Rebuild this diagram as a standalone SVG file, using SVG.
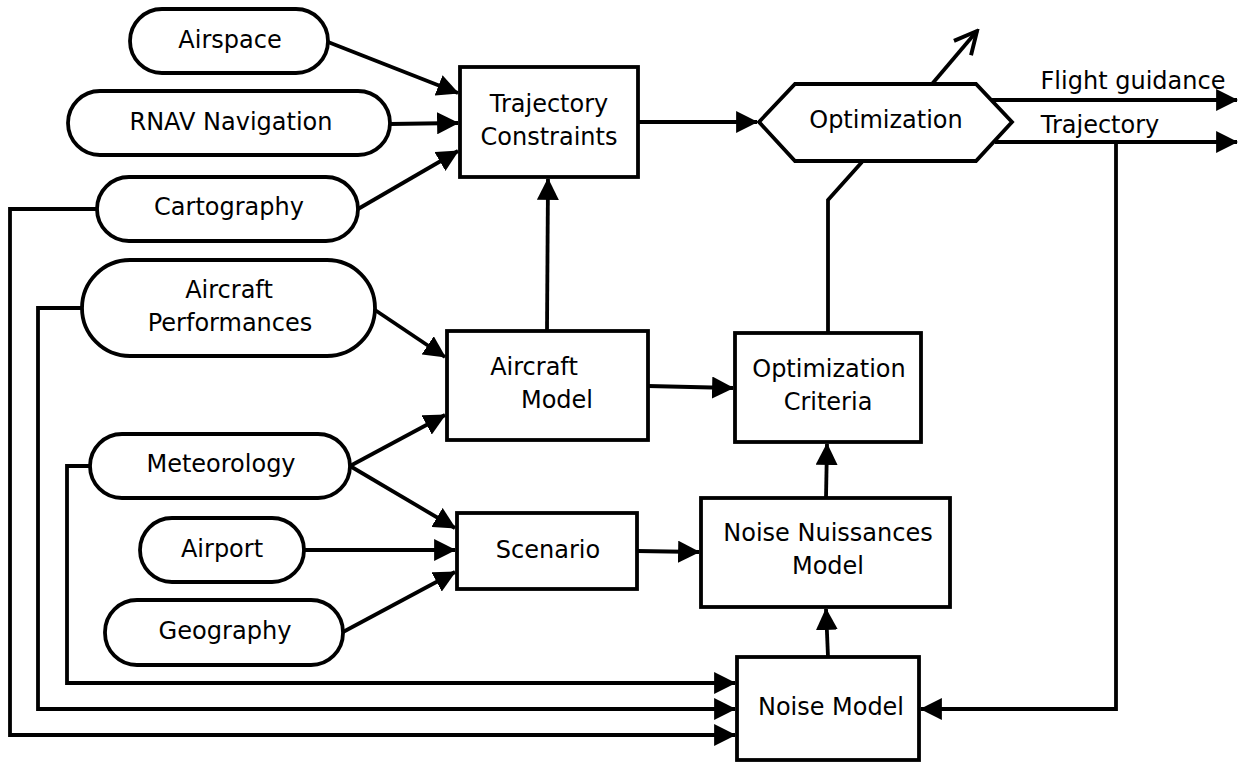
<svg xmlns="http://www.w3.org/2000/svg" width="1242" height="763" viewBox="0 0 1242 763">
<defs>
<style>
.n{fill:#fff;stroke:#000;stroke-width:3.8}
.t{font-family:"DejaVu Sans","Liberation Sans",sans-serif;font-size:24px;fill:#000;text-anchor:middle}
.c{fill:none;stroke:#000;stroke-width:3.8}
.a{marker-end:url(#ah)}
</style>
<marker id="ah" markerUnits="userSpaceOnUse" markerWidth="22" markerHeight="22" viewBox="0 0 20 20" refX="19" refY="10" orient="auto">
<path d="M0,0 L20,10 L0,20 Z" fill="#000"/>
</marker>
<marker id="oh" markerUnits="userSpaceOnUse" markerWidth="28" markerHeight="28" viewBox="0 0 20 20" refX="18" refY="10" orient="auto">
<path d="M2,2 L18,10 L2,18" fill="none" stroke="#000" stroke-width="2.8"/>
</marker>
</defs>
<rect width="1242" height="763" fill="#fff"/>
<g id="connectors">
<line class="c a" x1="328" y1="42" x2="458" y2="93"/>
<line class="c a" x1="390" y1="124" x2="458" y2="123"/>
<line class="c a" x1="358" y1="209" x2="458" y2="151"/>
<line class="c a" x1="638" y1="122" x2="757" y2="122"/>
<line class="c a" x1="547" y1="331" x2="548" y2="179"/>
<line class="c a" x1="375" y1="310" x2="445" y2="357"/>
<line class="c a" x1="350" y1="466" x2="445" y2="415"/>
<line class="c a" x1="350" y1="466" x2="455" y2="528"/>
<line class="c a" x1="304" y1="550" x2="455" y2="550"/>
<line class="c a" x1="343" y1="632" x2="455" y2="572"/>
<line class="c a" x1="648" y1="386" x2="733" y2="388"/>
<line class="c a" x1="637" y1="551" x2="699" y2="552"/>
<line class="c a" x1="826" y1="498" x2="827" y2="444"/>
<line class="c a" x1="828" y1="657" x2="826" y2="609"/>
<polyline class="c" points="828,333 828,200 862,162"/>
<line class="c" x1="932" y1="84" x2="977" y2="31" marker-end="url(#oh)"/>
<line class="c a" x1="990" y1="100" x2="1237" y2="100"/>
<line class="c a" x1="995" y1="142" x2="1237" y2="142"/>
<polyline class="c a" points="1116,142 1116,709 921,709"/>
<polyline class="c a" points="97,209 10,209 10,735 735,735"/>
<polyline class="c a" points="82,308 38,308 38,709 735,709"/>
<polyline class="c a" points="90,466 67,466 67,683 735,683"/>
</g>
<g id="airspace"><rect class="n" x="130" y="9" width="198" height="64" rx="32"/><text class="t" x="230" y="48">Airspace</text></g>
<g id="rnav"><rect class="n" x="68" y="91" width="322" height="64" rx="32"/><text class="t" x="231" y="130">RNAV Navigation</text></g>
<g id="cartography"><rect class="n" x="97" y="177" width="261" height="64" rx="32"/><text class="t" x="229" y="215">Cartography</text></g>
<g id="aircraft-performances"><rect class="n" x="82" y="260" width="293" height="96" rx="48"/><text class="t" x="229" y="298">Aircraft</text><text class="t" x="230" y="331">Performances</text></g>
<g id="meteorology"><rect class="n" x="90" y="434" width="260" height="64" rx="32"/><text class="t" x="221" y="472">Meteorology</text></g>
<g id="airport"><rect class="n" x="140" y="518" width="164" height="64" rx="32"/><text class="t" x="222" y="557">Airport</text></g>
<g id="geography"><rect class="n" x="105" y="600" width="238" height="65" rx="32"/><text class="t" x="225" y="639" textLength="133" lengthAdjust="spacingAndGlyphs">Geography</text></g>
<g id="trajectory-constraints"><rect class="n" x="460" y="67" width="178" height="110"/><text class="t" x="549" y="112">Trajectory</text><text class="t" x="549" y="145">Constraints</text></g>
<g id="optimization"><polygon class="n" points="759,122 795,84 976,84 1012,122 976,161 795,161"/><text class="t" x="886" y="128">Optimization</text></g>
<g id="aircraft-model"><rect class="n" x="447" y="331" width="201" height="109"/><text class="t" x="534" y="375">Aircraft</text><text class="t" x="557" y="408">Model</text></g>
<g id="optimization-criteria"><rect class="n" x="735" y="333" width="186" height="109"/><text class="t" x="829" y="377">Optimization</text><text class="t" x="828" y="410">Criteria</text></g>
<g id="scenario"><rect class="n" x="457" y="513" width="180" height="76"/><text class="t" x="548" y="558">Scenario</text></g>
<g id="noise-nuissances-model"><rect class="n" x="701" y="498" width="249" height="109"/><text class="t" x="828" y="541">Noise Nuissances</text><text class="t" x="828" y="574">Model</text></g>
<g id="noise-model"><rect class="n" x="737" y="657" width="182" height="103"/><text class="t" x="831" y="715" textLength="146" lengthAdjust="spacingAndGlyphs">Noise Model</text></g>
<g id="labels"><text class="t" x="1133" y="89">Flight guidance</text><text class="t" x="1100" y="133">Trajectory</text></g>
</svg>
